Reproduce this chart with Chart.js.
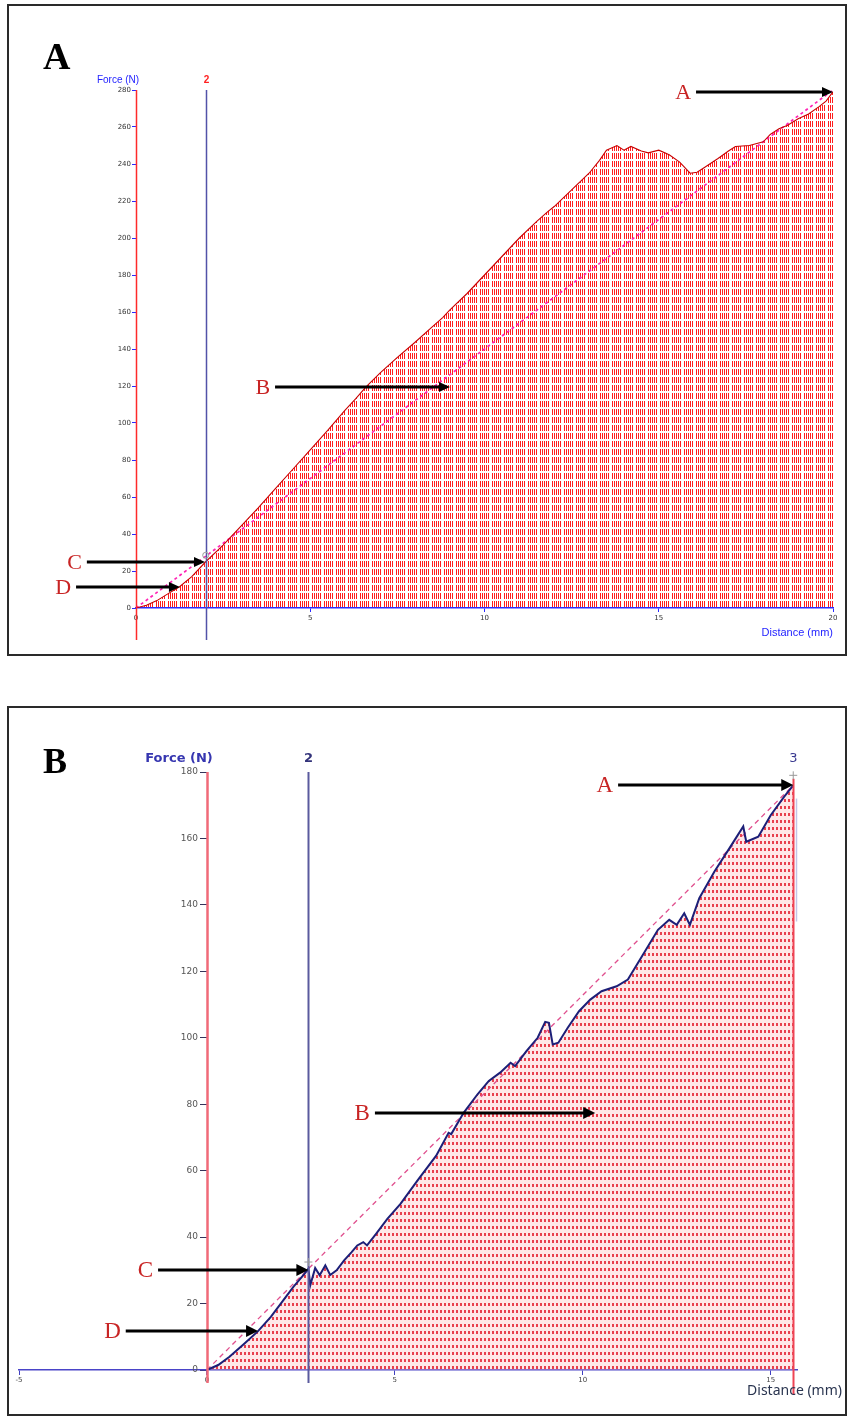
<!DOCTYPE html>
<html>
<head>
<meta charset="utf-8">
<title>Force–distance curves</title>
<script src="https://cdn.jsdelivr.net/npm/chart.js@4/dist/chart.umd.min.js"></script>
<style>
  html, body { margin: 0; padding: 0; background: #fff; }
  body { width: 848px; height: 1420px; position: relative; overflow: hidden; }
  canvas { position: absolute; left: 0; }
  #chartA { top: 0; }
  #chartB { top: 700px; }
</style>
</head>
<body>
<canvas id="chartA" width="848" height="660"></canvas>
<canvas id="chartB" width="848" height="720"></canvas>
<script>
// ---- Panel A: force (N) against distance (mm) ----
const distA  = [0, 0.3, 0.6, 0.9, 1.25, 1.6, 2.0, 2.5, 3.0, 3.5, 4.0, 4.5, 5.0, 5.5, 6.0,
                6.3, 6.6, 7.0, 7.5, 8.0, 8.5, 8.8, 9.0, 9.5, 10.0, 10.5, 11.0, 11.5, 11.8, 12.0,
                12.5, 13.0, 13.3, 13.5, 13.8, 14.0, 14.2, 14.5, 14.7, 15.0, 15.3, 15.6, 15.9, 16.1,
                16.3, 16.7, 17.0, 17.2, 17.6, 18.0, 18.2, 18.45, 18.7, 19.0, 19.3, 19.6, 19.8, 20.0];
const forceA = [0, 1.5, 4, 7.5, 11.5, 17, 25, 34, 44, 54, 64.5, 75, 85.5, 96, 107,
                113, 119.5, 127, 135.5, 143.5, 152, 157, 161, 170, 180, 190, 200, 209, 214, 217,
                226, 235, 242, 247.5, 250, 247.5, 249.5, 247, 246, 247.5, 245, 241, 235, 235.5,
                238, 243, 247, 249.5, 250, 252, 256, 259, 261, 264.5, 267, 271, 274, 279];
const chordDistA  = [0, 20];
const chordForceA = [0, 280];
const xTicksA = [0, 5, 10, 15, 20];
const yTicksA = [0, 20, 40, 60, 80, 100, 120, 140, 160, 180, 200, 220, 240, 260, 280];

// ---- Panel B ----
const distB  = [0, 0.3, 0.6, 1.0, 1.36, 1.7, 2.0, 2.3, 2.6, 2.7,
                2.75, 2.88, 3.0, 3.15, 3.28, 3.45, 3.65, 3.85, 4.0, 4.16,
                4.26, 4.5, 4.8, 5.15, 5.6, 6.1, 6.43, 6.5, 6.83, 7.2,
                7.5, 7.8, 8.08, 8.2, 8.5, 8.8, 9.0, 9.1, 9.2, 9.35,
                9.6, 9.9, 10.2, 10.5, 10.9, 11.2, 11.6, 12.0, 12.3, 12.5,
                12.7, 12.85, 13.1, 13.5, 13.9, 14.27, 14.35, 14.67, 15.0, 15.36, 15.6];
const forceB = [0, 1.5, 4, 8, 11.7, 16, 20.5, 25, 29, 30.5,
                25.5, 30.7, 28.5, 31.5, 28.6, 30, 33, 35.5, 37.5, 38.5,
                37.5, 41, 45.5, 50, 57, 64.5, 71.4, 71, 77.4, 83,
                87, 89.5, 92.5, 91.5, 96, 100, 104.8, 104.5, 98, 98.5,
                103, 108, 111.5, 114, 115.5, 117.5, 125, 132.5, 135.5, 134,
                137.5, 134, 142, 150, 157, 163.6, 159, 160.5, 167, 172.6, 176];
const chordDistB  = [0, 15.6];
const chordForceB = [0, 176];
const xTicksB = [-5, 0, 5, 10, 15];
const yTicksB = [0, 20, 40, 60, 80, 100, 120, 140, 160, 180];

// Cursor positions (mm) and the callout arrows, in data units
const cursorA  = 2;
const cursorsB = [2.7, 15.6];
const arrowsA = [
  { label: 'A', y: 279,   from: 16.07, to: 20 },
  { label: 'B', y: 119.5, from: 3.99,  to: 9.01 },
  { label: 'C', y: 24.9,  from: -1.41, to: 1.98 },
  { label: 'D', y: 11.4,  from: -1.72, to: 1.26 }
];
const arrowsB = [
  { label: 'A', y: 176,  from: 10.94, to: 15.6 },
  { label: 'B', y: 77.4, from: 4.47,  to: 10.33 },
  { label: 'C', y: 30.1, from: -1.30, to: 2.7 },
  { label: 'D', y: 11.7, from: -2.16, to: 1.36 }
];

const pts = (xs, ys) => xs.map((v, i) => ({ x: v, y: ys[i] }));

// vertical dashed hatch used under the panel A trace
function hatchFill(ctx) {
  const t = document.createElement('canvas');
  t.width = 12; t.height = 8;
  const g = t.getContext('2d');
  g.fillStyle = '#ff1c1c';
  for (let i = 0; i < 5; i++) g.fillRect(i * 2, 1, 1, 6);
  return ctx.createPattern(t, 'repeat');
}
// dotted grid used under the panel B trace
function dotFill(ctx) {
  const t = document.createElement('canvas');
  t.width = 4; t.height = 7;
  const g = t.getContext('2d');
  g.fillStyle = 'rgba(255,190,190,0.35)';
  g.fillRect(0, 0, 4, 7);
  g.fillStyle = '#e8404e';
  g.fillRect(0, 1, 2, 3);
  return ctx.createPattern(t, 'repeat');
}

// frame, cursor lines, callout arrows and captions
function decor(cfg) {
  return {
    id: 'decor' + cfg.name,
    beforeDraw(chart) {
      const c = chart.ctx;
      c.save();
      c.fillStyle = '#ffffff';
      c.fillRect(0, 0, chart.width, chart.height);
      c.strokeStyle = '#2a2a2a';
      c.lineWidth = 2;
      c.strokeRect(cfg.frame[0], cfg.frame[1], cfg.frame[2], cfg.frame[3]);
      c.restore();
    },
    afterDatasetsDraw(chart) {
      const c = chart.ctx, xs = chart.scales.x, ys = chart.scales.y, area = chart.chartArea;
      c.save();
      cfg.guides.forEach(g => {
        const px = Math.round(xs.getPixelForValue(g.at)) + 0.5;
        c.strokeStyle = g.color;
        c.lineWidth = g.width;
        c.beginPath();
        c.moveTo(px, ys.getPixelForValue(g.from));
        c.lineTo(px, g.to !== undefined ? ys.getPixelForValue(g.to) : area.bottom + g.below);
        c.stroke();
        if (g.label) {
          c.fillStyle = g.labelColor;
          c.font = g.font;
          c.textAlign = 'center';
          c.textBaseline = 'alphabetic';
          c.fillText(g.label, px, g.labelY);
        }
      });
      // value labels for an axis that sits inside the plot (x = 0)
      if (cfg.yLabels) {
        const ax = xs.getPixelForValue(0);
        c.fillStyle = cfg.yLabels.color;
        c.font = cfg.yLabels.font;
        c.textAlign = 'right';
        c.textBaseline = 'middle';
        ys.ticks.forEach(t => {
          c.fillText(String(t.value), ax - cfg.yLabels.gap, ys.getPixelForValue(t.value));
        });
      }
      (cfg.marks || []).forEach(m => {
        const px = xs.getPixelForValue(m.x), py = ys.getPixelForValue(m.y);
        c.strokeStyle = '#9a9a9a';
        c.lineWidth = 1;
        c.beginPath();
        if (m.kind === 'ring') {
          c.arc(px, py, 3, 0, Math.PI * 2);
        } else {
          c.moveTo(px - 4, py); c.lineTo(px + 4, py);
          c.moveTo(px, py - 4); c.lineTo(px, py + 4);
        }
        c.stroke();
      });
      cfg.arrows.forEach(a => {
        const x0 = xs.getPixelForValue(a.from), x1 = xs.getPixelForValue(a.to);
        const yy = Math.round(ys.getPixelForValue(a.y));
        c.strokeStyle = '#000';
        c.lineWidth = cfg.arrowWidth;
        c.beginPath();
        c.moveTo(x0, yy);
        c.lineTo(x1 - cfg.head + 1, yy);
        c.stroke();
        c.fillStyle = '#000';
        c.beginPath();
        c.moveTo(x1, yy);
        c.lineTo(x1 - cfg.head, yy - cfg.headHalf);
        c.lineTo(x1 - cfg.head, yy + cfg.headHalf);
        c.closePath();
        c.fill();
        c.fillStyle = '#c82424';
        c.font = cfg.letterFont;
        c.textAlign = 'right';
        c.textBaseline = 'middle';
        c.fillText(a.label, x0 - cfg.letterGap, yy + 1);
      });
      cfg.texts.forEach(t => {
        c.fillStyle = t.color;
        c.font = t.font;
        c.textAlign = t.align;
        c.textBaseline = 'alphabetic';
        c.fillText(t.text, t.x, t.y);
      });
      c.restore();
    }
  };
}

// ---------------- Panel A ----------------
const ctxA = document.getElementById('chartA').getContext('2d');
new Chart(ctxA, {
  type: 'line',
  data: {
    datasets: [
      { data: pts(distA, forceA), borderColor: '#c80000', borderWidth: 1.1, pointRadius: 0,
        tension: 0, fill: 'origin', backgroundColor: hatchFill(ctxA) },
      { data: pts(chordDistA, chordForceA), borderColor: '#ff22b4', borderWidth: 1.7,
        borderDash: [3, 3], pointRadius: 0, fill: false }
    ]
  },
  options: {
    responsive: false, animation: false, devicePixelRatio: 1,
    layout: { padding: { left: 96, right: 15, top: 90, bottom: 22 } },
    plugins: { legend: { display: false }, tooltip: { enabled: false },
               filler: { drawTime: 'beforeDatasetsDraw' } },
    scales: {
      x: {
        type: 'linear', min: 0, max: 20,
        afterFit(s) { s.height = 30; },
        afterBuildTicks(s) { s.ticks = xTicksA.map(v => ({ value: v })); },
        grid: { drawOnChartArea: false, tickLength: 4, color: '#2a2aff' },
        border: { color: '#2a2aff', width: 1.5 },
        ticks: { font: { family: 'DejaVu Sans', size: 7 }, color: '#333', padding: 2, maxRotation: 0 }
      },
      y: {
        type: 'linear', min: 0, max: 280,
        afterFit(s) { s.width = 40; },
        afterBuildTicks(s) { s.ticks = yTicksA.map(v => ({ value: v })); },
        grid: { drawOnChartArea: false, tickLength: 4, color: '#2a2aff' },
        border: { display: false },
        ticks: { font: { family: 'DejaVu Sans', size: 7 }, color: '#333', padding: 1 }
      }
    }
  },
  plugins: [decor({
    name: 'A',
    frame: [8, 5, 838, 650],
    guides: [
      { at: 0, from: 280, below: 32, color: '#ff2a2a', width: 1.5 },
      { at: cursorA, from: 280, below: 32, color: '#5252a8', width: 1.5, label: '2',
        labelColor: '#ff2020', font: 'bold 10px "Liberation Sans"', labelY: 83 }
    ],
    marks: [{ x: cursorA, y: 28.5, kind: 'ring' }],
    arrows: arrowsA, arrowWidth: 3, head: 11, headHalf: 5,
    letterFont: '22px "Liberation Serif"', letterGap: 5,
    texts: [
      { text: 'A', x: 43, y: 69, font: 'bold 38px "Liberation Serif"', color: '#000', align: 'left' },
      { text: 'Force (N)', x: 118, y: 83, font: '10px "Liberation Sans"', color: '#2424ff', align: 'center' },
      { text: 'Distance (mm)', x: 833, y: 636, font: '11px "Liberation Sans"', color: '#2424ff', align: 'right' }
    ]
  })]
});

// ---------------- Panel B ----------------
const ctxB = document.getElementById('chartB').getContext('2d');
new Chart(ctxB, {
  type: 'line',
  data: {
    datasets: [
      { data: pts(distB, forceB), borderColor: '#1c1f78', borderWidth: 2, pointRadius: 0,
        tension: 0, fill: 'origin', backgroundColor: dotFill(ctxB) },
      { data: pts(chordDistB, chordForceB), borderColor: '#e0508e', borderWidth: 1.3,
        borderDash: [5, 4], pointRadius: 0, fill: false }
    ]
  },
  options: {
    responsive: false, animation: false, devicePixelRatio: 1,
    layout: { padding: { left: 19, right: 51, top: 72, bottom: 20 } },
    plugins: { legend: { display: false }, tooltip: { enabled: false },
               filler: { drawTime: 'beforeDatasetsDraw' } },
    scales: {
      x: {
        type: 'linear', min: -5, max: 15.7,
        afterFit(s) { s.height = 30; },
        afterBuildTicks(s) { s.ticks = xTicksB.map(v => ({ value: v })); },
        grid: { drawOnChartArea: false, tickLength: 5, color: '#4040c0' },
        border: { color: '#4a44c8', width: 1.5 },
        ticks: { font: { family: 'DejaVu Sans', size: 7 }, color: '#444', padding: 1, maxRotation: 0 }
      },
      y: {
        type: 'linear', min: 0, max: 180, position: { x: 0 },
        afterBuildTicks(s) { s.ticks = yTicksB.map(v => ({ value: v })); },
        grid: { drawOnChartArea: false, tickLength: 7, color: '#33335a' },
        border: { display: false },
        ticks: { display: false }
      }
    }
  },
  plugins: [decor({
    name: 'B',
    frame: [8, 7, 838, 708],
    guides: [
      { at: 0, from: 180, below: 13, color: '#f06a78', width: 2.5 },
      { at: cursorsB[0], from: 180, below: 13, color: '#5a5a9e', width: 2, label: '2',
        labelColor: '#33337a', font: 'bold 13px "DejaVu Sans"', labelY: 62 },
      { at: cursorsB[1], from: 178, below: 25, color: '#ee4455', width: 2, label: '3',
        labelColor: '#3a3a90', font: '13px "DejaVu Sans"', labelY: 62 },
      { at: 15.68, from: 172, to: 135, color: '#c4c4e6', width: 1.5 }
    ],
    yLabels: { font: '9px "DejaVu Sans"', color: '#555', gap: 9 },
    marks: [{ x: cursorsB[0], y: 32.5, kind: 'plus' }, { x: cursorsB[1], y: 179, kind: 'plus' }],
    arrows: arrowsB, arrowWidth: 3, head: 12, headHalf: 6,
    letterFont: '23px "Liberation Serif"', letterGap: 5,
    texts: [
      { text: 'B', x: 43, y: 73, font: 'bold 36px "Liberation Serif"', color: '#000', align: 'left' },
      { text: 'Force (N)', x: 179, y: 62, font: 'bold 13px "DejaVu Sans"', color: '#3636b0', align: 'center' },
      { text: 'Distance (mm)', x: 842, y: 695, font: '14px "Noto Sans"', color: '#2a3550', align: 'right' }
    ]
  })]
});
</script>
</body>
</html>
